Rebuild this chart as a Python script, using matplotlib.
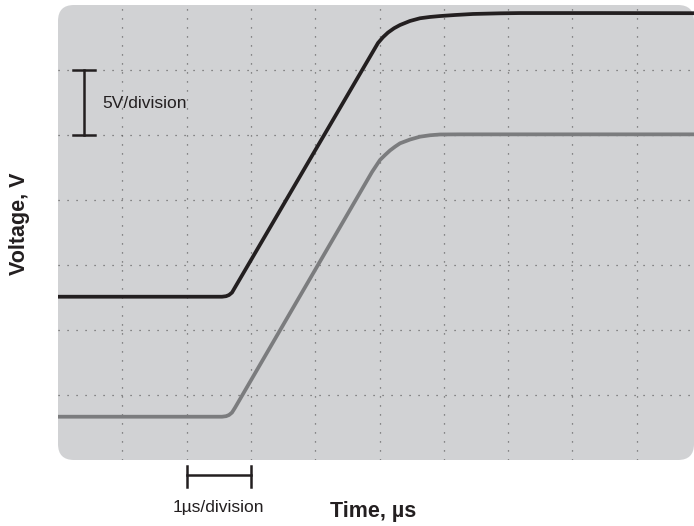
import matplotlib
matplotlib.use("Agg")
import matplotlib.pyplot as plt
from matplotlib.patches import FancyBboxPatch

plt.rcParams['font.family'] = ['Liberation Sans', 'DejaVu Sans']

# Data (time in µs, voltage in V; 1 µs/div, 5 V/div)
t_black = [0.0, 2.551, 2.613, 2.659, 2.706, 2.753, 4.977, 5.054, 5.132, 5.226,
           5.319, 5.474, 5.630, 5.785, 5.941, 6.174, 6.454, 6.874, 7.185,
           8.429, 9.891]
v_black = [12.56, 12.56, 12.60, 12.69, 12.88, 13.28, 32.08, 32.52, 32.88, 33.21,
           33.46, 33.77, 33.98, 34.08, 34.15, 34.23, 34.31, 34.36, 34.38,
           34.38, 34.37]

t_gray = [0.0, 2.551, 2.613, 2.659, 2.706, 2.753, 4.883, 4.946, 5.008, 5.086,
          5.163, 5.241, 5.319, 5.474, 5.630, 5.785, 5.941, 6.252, 9.891]
v_gray = [3.33, 3.33, 3.37, 3.46, 3.65, 4.02, 22.15, 22.62, 23.08, 23.46,
          23.81, 24.10, 24.36, 24.65, 24.87, 24.98, 25.04, 25.05, 25.05]

x_grid = [1, 2, 3, 4, 5, 6, 7, 8, 9]
y_grid = [5, 10, 15, 20, 25, 30]

W, H = 694, 526
fig = plt.figure(figsize=(W / 100, H / 100), dpi=100)
L, R, T, B = 58, 694, 5, 460
ax = fig.add_axes([L / W, 1 - B / H, (R - L) / W, (B - T) / H])
ax.set_xlim(0, (R - L) / 64.3)
ax.set_ylim(0, 35)
ax.set_facecolor('none')
for s in ax.spines.values():
    s.set_visible(False)

bg = FancyBboxPatch((L / W, 1 - B / H), (R - L) / W, (B - T) / H,
                    boxstyle="round,pad=0,rounding_size=%f" % (16 / W),
                    mutation_aspect=W / H,
                    transform=fig.transFigure, facecolor='#d1d2d4',
                    edgecolor='none', zorder=0, clip_on=False)
ax.add_patch(bg)

ax.set_xticks(x_grid)
ax.set_yticks(y_grid)
ax.tick_params(length=0, labelbottom=False, labelleft=False)
ax.grid(True, color='#5a5a5a', linewidth=0.9, linestyle=(0, (0.9, 6.3)))
ax.set_axisbelow(True)

ax.plot(t_gray, v_gray, color='#7b7c7e', linewidth=2.7, solid_joinstyle='round',
        solid_capstyle='butt', zorder=3)
ax.plot(t_black, v_black, color='#231f20', linewidth=2.7, solid_joinstyle='round',
        solid_capstyle='butt', zorder=4)

# vertical scale bar (5 V/division)
xb = 0.41
cap = 0.17
ax.plot([xb, xb], [25, 30], color='#231f20', lw=1.8, zorder=5)
ax.plot([xb - cap, xb + cap], [30, 30], color='#231f20', lw=1.8, zorder=5)
ax.plot([xb - cap, xb + cap], [25, 25], color='#231f20', lw=1.8, zorder=5)
ax.text(0.695, 27.44, '5V/division', ha='left', va='center', fontsize=12.5,
        color='#231f20', zorder=5)

# horizontal scale bar (1 µs/division)
yb = -1.15
ax.plot([2, 3], [yb, yb], color='#231f20', lw=1.8, clip_on=False)
ax.plot([2, 2], [-0.46, -2.05], color='#231f20', lw=1.8, clip_on=False)
ax.plot([3, 3], [-0.46, -2.05], color='#231f20', lw=1.8, clip_on=False)
ax.text(2.488, -3.69, '1µs/division', ha='center', va='center', fontsize=12.5,
        color='#231f20', clip_on=False)

fig.text(373.5 / W, 1 - 511.7 / H, 'Time, µs', ha='center', va='center',
         fontsize=15.5, fontweight='bold', color='#231f20')
fig.text(20 / W, 1 - 223.5 / H, 'Voltage, V', ha='center', va='center',
         rotation=90, fontsize=15.5, fontweight='bold', color='#231f20')

fig.savefig('out.png', dpi=100)
